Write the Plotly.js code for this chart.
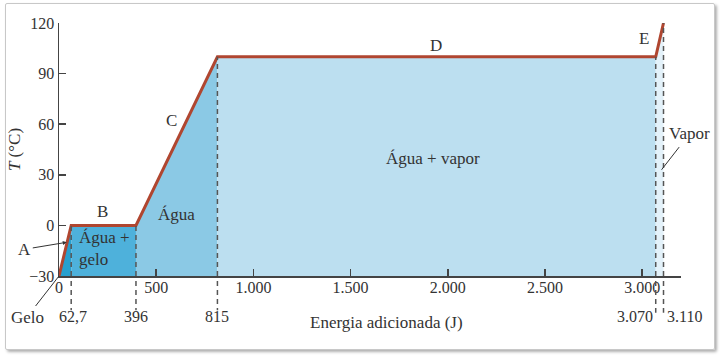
<!DOCTYPE html>
<html>
<head>
<meta charset="utf-8">
<script src="https://cdn.plot.ly/plotly-3.0.1.min.js"></script>
<style>
  html, body { margin: 0; padding: 0; background: #fff; }
  #frame { position: absolute; left: 5px; top: 3px; width: 708px; height: 345px;
           border: 1px solid #c8c8c8; border-radius: 2px; box-shadow: 2px 2px 3px #b0b0b0; }
  #chart { position: absolute; left: 0; top: 0; width: 720px; height: 356px; }
</style>
</head>
<body>
<div id="frame"></div>
<div id="chart"></div>
<script>
// Energy added (J) at each phase boundary and temperature (°C)
const energy = [0, 62.7, 396, 815, 3070, 3110];
const temperature = [-30, 0, 0, 100, 100, 120];
const energyLabels = ["62,7", "396", "815", "3.070", "3.110"];
const xTickVals = [0, 500, 1000, 1500, 2000, 2500, 3000];
const xTickText = ["0", "500", "1.000", "1.500", "2.000", "2.500", "3.000"];
const yTickVals = [-30, 0, 30, 60, 90, 120];
const regionColors = ["#27a0cf", "#4eb1db", "#8bc9e5", "#bcdff0", "#e4f2fa"];

const base = temperature[0];
const traces = [];
for (let i = 0; i < energy.length - 1; i++) {
  const x0 = energy[i], x1 = energy[i + 1];
  const t0 = temperature[i], t1 = temperature[i + 1];
  traces.push({
    x: [x0, x0, x1, x1, x0],
    y: [base, t0, t1, base, base],
    mode: 'lines', fill: 'toself', fillcolor: regionColors[i],
    line: { width: 0, color: regionColors[i] }, hoverinfo: 'skip', showlegend: false
  });
}
traces.push({
  x: energy, y: temperature, mode: 'lines',
  line: { color: '#b04630', width: 3 }, showlegend: false
});

const fam = 'Liberation Serif, DejaVu Serif, serif';
const font = { family: fam, size: 17, color: '#333' };
const tickFont = { family: fam, size: 16, color: '#333' };
const shapes = [];
const annotations = [];
const labelAnchor = ['center', 'center', 'center', 'right', 'left'];
const labelShift = [2, 0, 0, -1, 1];
for (let i = 1; i < energy.length; i++) {
  const dash = { color: '#555', width: 1.5, dash: '5px,4px' };
  shapes.push({ type: 'line', xref: 'x', yref: 'y', x0: energy[i], x1: energy[i],
    y0: base, y1: temperature[i], line: dash });
  shapes.push({ type: 'line', xref: 'x', yref: 'paper', x0: energy[i], x1: energy[i],
    y0: -0.02, y1: i >= 4 ? -0.145 : -0.135, line: dash });
  annotations.push({ x: energy[i], xref: 'x', y: -0.16, yref: 'paper', yanchor: 'middle',
    xanchor: labelAnchor[i - 1], xshift: labelShift[i - 1],
    text: energyLabels[i - 1], showarrow: false, font: tickFont });
}

const txt = (x, y, text, extra) => Object.assign({ x: x, y: y, xref: 'x', yref: 'y',
  text: text, showarrow: false, font: font }, extra || {});
annotations.push(
  txt(226, 8.3, 'B'),
  txt(581, 62, 'C'),
  txt(1937, 106.6, 'D'),
  txt(3011, 111, 'E'),
  txt(606, 6.5, 'Água'),
  txt(93, -13.6, 'Água +<br>gelo', { xanchor: 'left', align: 'left' }),
  txt(1922, 39.7, 'Água + vapor'),
  txt(40, -10, 'A', { showarrow: true, ax: -42, ay: 7, arrowhead: 2, arrowsize: 0.8,
    arrowwidth: 1, arrowcolor: '#333' }),
  txt(0, -30, 'Gelo', { showarrow: true, ax: -32, ay: 41, arrowhead: 0,
    arrowwidth: 1, arrowcolor: '#333' }),
  txt(3100, 33, 'Vapor', { showarrow: true, ax: 28, ay: -36, arrowhead: 0,
    arrowwidth: 1, arrowcolor: '#333', startstandoff: 3 }),
  { xref: 'paper', yref: 'paper', x: 0.527, y: -0.185, text: 'Energia adicionada (J)',
    showarrow: false, font: font, yanchor: 'middle' }
);

const layout = {
  width: 720, height: 356,
  margin: { l: 59, r: 39, t: 23, b: 80 },
  paper_bgcolor: 'rgba(0,0,0,0)', plot_bgcolor: 'rgba(0,0,0,0)',
  font: font,
  xaxis: {
    range: [0, 3200], showgrid: false, zeroline: false,
    showline: true, linecolor: '#444', linewidth: 1.5,
    ticks: 'inside', ticklen: 7, tickcolor: '#444', tickwidth: 1.5,
    tickvals: xTickVals, ticktext: xTickText, tickfont: tickFont,
    ticklabelstandoff: -4
  },
  yaxis: {
    range: [-30, 120], showgrid: false, zeroline: false,
    showline: true, linecolor: '#444', linewidth: 1.5,
    ticks: 'inside', ticklen: 7, tickcolor: '#444', tickwidth: 1.5,
    tickvals: yTickVals, tickfont: tickFont,
    title: { text: '<i>T</i> (°C)', font: font, standoff: 4 }
  },
  shapes: shapes,
  annotations: annotations
};

Plotly.newPlot('chart', traces, layout, { staticPlot: true });
</script>
</body>
</html>
